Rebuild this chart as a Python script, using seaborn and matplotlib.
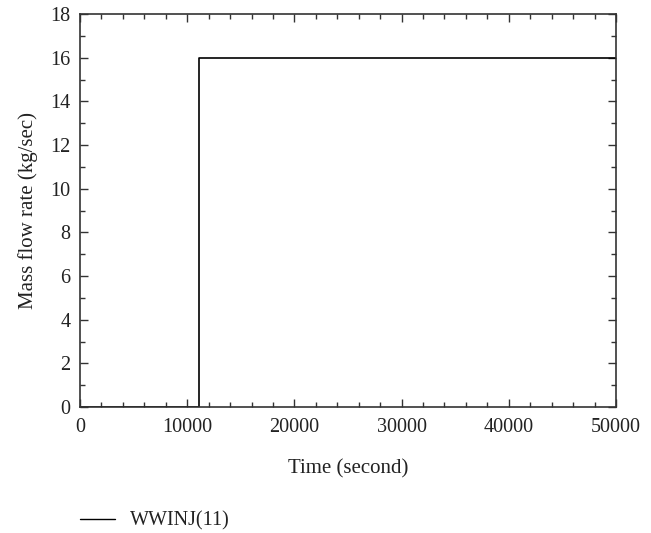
import matplotlib
matplotlib.use("Agg")
import matplotlib.pyplot as plt
import seaborn as sns
import pandas as pd
from matplotlib.ticker import MultipleLocator
from matplotlib.lines import Line2D

time_s = [0, 11100, 50000]
flow = [0, 16, 16]
series_name = "WWINJ(11)"

sns.set_theme(style="white")
plt.rcParams['font.family'] = ['Liberation Serif', 'DejaVu Serif']

df = pd.DataFrame({"Time": time_s, "Flow": flow, "Series": series_name})

fig = plt.figure(figsize=(6.51, 5.33), dpi=100)
ax = fig.add_axes([80/651, 1-407/533, 536/651, 393/533])
sns.lineplot(data=df, x="Time", y="Flow", ax=ax, color="black", linewidth=1.2,
             drawstyle="steps-post", legend=False)

ax.set_xlim(0, 50000)
ax.set_ylim(0, 18)
ax.xaxis.set_major_locator(MultipleLocator(10000))
ax.xaxis.set_minor_locator(MultipleLocator(2000))
ax.yaxis.set_major_locator(MultipleLocator(2))
ax.yaxis.set_minor_locator(MultipleLocator(1))
ax.tick_params(which="both", direction="in", top=True, right=True, bottom=True, left=True,
               color="#333333", labelsize=14.5, labelcolor="#222222")
ax.tick_params(which="major", length=6, width=1)
ax.tick_params(which="minor", length=3.5, width=1)
ax.tick_params(axis="x", pad=8)
ax.tick_params(axis="y", pad=7)
for s in ax.spines.values():
    s.set_color("#333333")
    s.set_linewidth(1.2)

ax.set_xlabel("Time (second)", fontsize=15, color="#222222", labelpad=16)
ax.set_ylabel("Mass flow rate (kg/sec)", fontsize=15, color="#222222", labelpad=9)

h = Line2D([0], [0], color="black", linewidth=1)
fig.legend([h], [series_name], loc="lower left", bbox_to_anchor=(62/651, -16/533),
           frameon=False, fontsize=14.5, handlelength=1.75, handletextpad=0.75,
           labelcolor="#222222")

fig.savefig("out.png", dpi=100)
